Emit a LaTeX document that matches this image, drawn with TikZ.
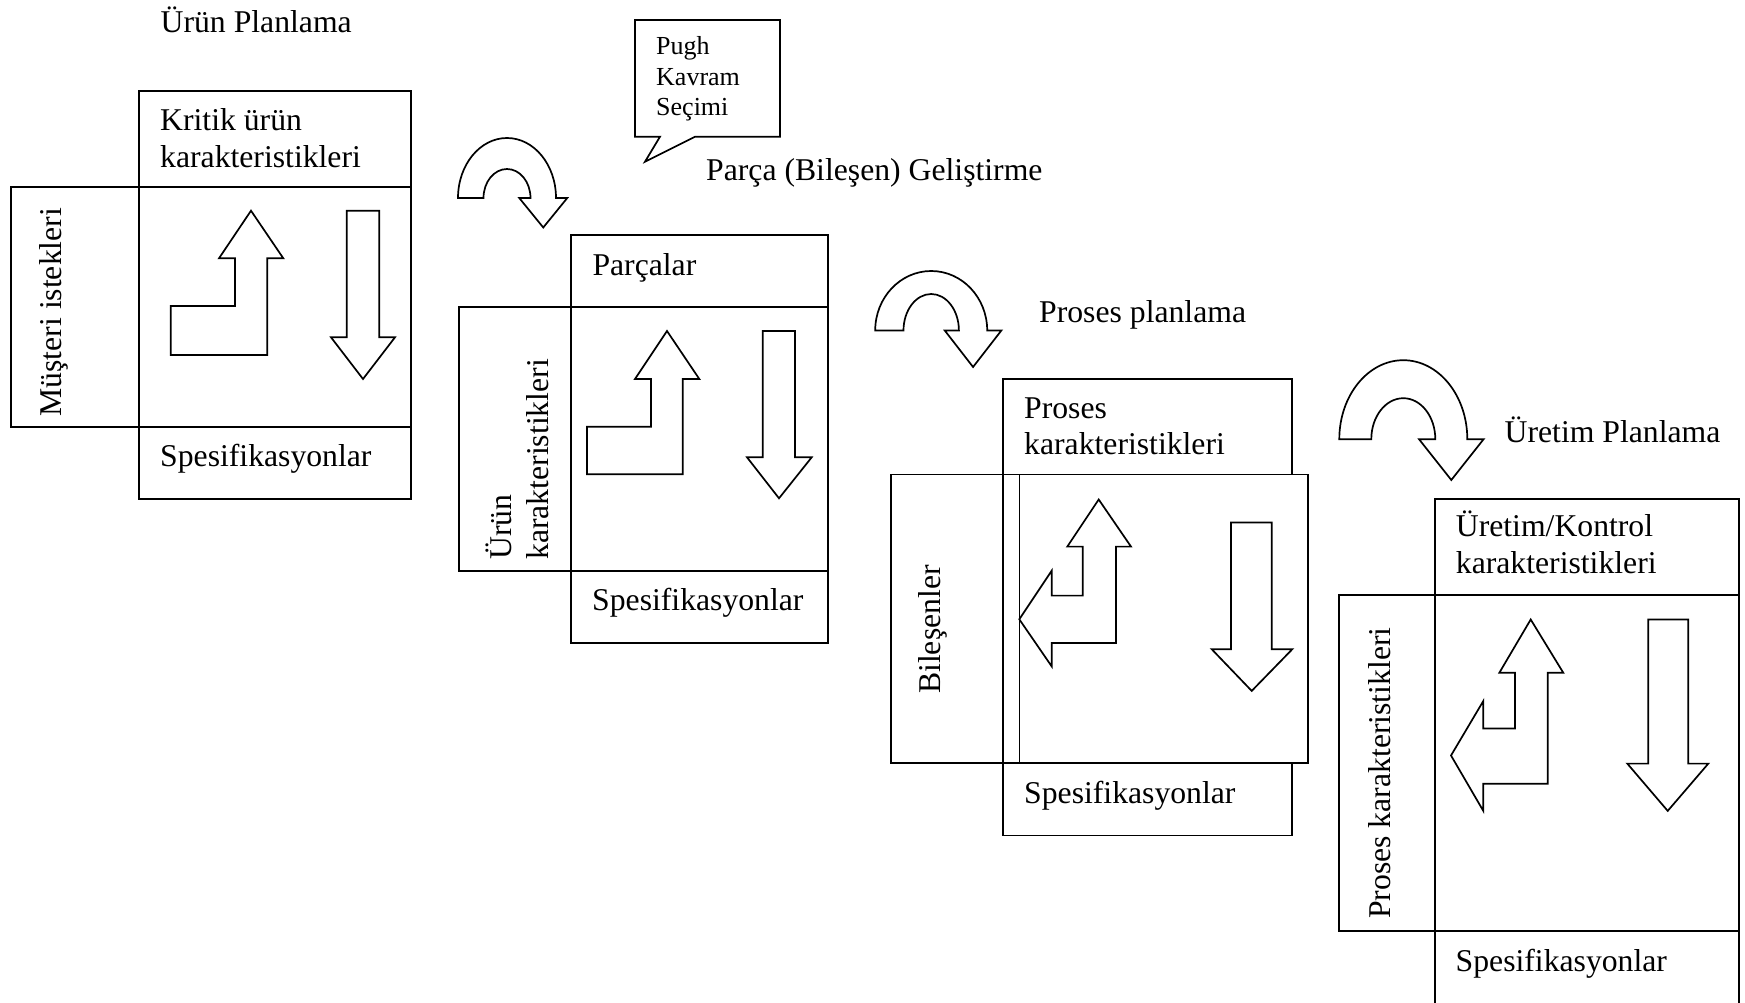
\documentclass[tikz,border=0pt]{standalone}
\usepackage{fontspec}
\setmainfont{Liberation Serif}

% U-turn arrow: centre x, base y, outer radii, inner radii, head half width, head depth
\newcommand{\qfdturn}[8]{%
  \draw[shapeline]
    ({#1-#3},#2)
    .. controls ({#1-#3},{#2-0.5523*#4}) and ({#1-0.5523*#3},{#2-#4}) .. ({#1},{#2-#4})
    .. controls ({#1+0.5523*#3},{#2-#4}) and ({#1+#3},{#2-0.5523*#4}) .. ({#1+#3},#2)
    -- ({#1+(#3+#5)/2+#7},#2)
    -- ({#1+(#3+#5)/2},{#2+#8})
    -- ({#1+(#3+#5)/2-#7},#2)
    -- ({#1+#5},#2)
    .. controls ({#1+#5},{#2-0.5523*#6}) and ({#1+0.5523*#5},{#2-#6}) .. ({#1},{#2-#6})
    .. controls ({#1-0.5523*#5},{#2-#6}) and ({#1-#5},{#2-0.5523*#6}) .. ({#1-#5},#2)
    -- cycle;}

\begin{document}
\begin{tikzpicture}[x=1pt,y=-1pt,
  lbl/.style={anchor=base west, inner sep=0pt, font=\fontsize{31.7}{36.5}\selectfont},
  vlbl/.style={lbl, rotate=90},
  smalllbl/.style={anchor=base west, inner sep=0pt, font=\fontsize{26}{30.5}\selectfont},
  frame/.style={draw=black, line width=1.7pt},
  shapeline/.style={draw=black, fill=white, line width=1.7pt, line join=miter}]

\fill[white] (0,0) rectangle (1745,1003);
\useasboundingbox (0,0) rectangle (1745,1003);
\clip (0,0) rectangle (1745,1003);

% ---------- stage 1: product planning ----------
\draw[frame] (139,90.7) rectangle (411,186.7);
\draw[frame] (139,186.7) rectangle (411,426.7);
\draw[frame] (139,426.7) rectangle (411,499);
\draw[frame] (10.7,186.7) rectangle (139,426.7);

\draw[shapeline] (251,210.7) -- (283.3,258.3) -- (267.3,258.3) -- (267.3,355)
  -- (170.7,355) -- (170.7,306) -- (235,306) -- (235,258.3) -- (219,258.3) -- cycle;
\draw[shapeline] (346.7,210.7) -- (379.3,210.7) -- (379.3,337.3) -- (395,337.3)
  -- (363,379) -- (331,337.3) -- (346.7,337.3) -- cycle;

\node[lbl] (t1) at (160.5,33) {Ürün Planlama};
\node[lbl] (k1) at (160,131) {\parbox[t]{300pt}{Kritik ürün\\karakteristikleri}};
\node[vlbl] (m1) at (61,416.7) {Müşteri istekleri};
\node[lbl] (s1) at (160,466.7) {Spesifikasyonlar};

% ---------- transition 1 ----------
\qfdturn{507}{198}{49}{60}{23.5}{29}{24}{29.5}

% speech bubble
\draw[shapeline] (635,20) -- (780,20) -- (780,136.7) -- (695,136.7) -- (645,161.7)
  -- (660,136.7) -- (635,136.7) -- cycle;
\node[smalllbl] (pugh) at (656,55) {\parbox[t]{120pt}{Pugh\\Kavram\\Seçimi}};
\node[lbl] (t2) at (706,181) {Parça (Bileşen) Geliştirme};

% ---------- stage 2: part development ----------
\draw[frame] (571,235) rectangle (827.7,307.3);
\draw[frame] (571,307.3) rectangle (827.7,570.7);
\draw[frame] (571,570.7) rectangle (827.7,643.3);
\draw[frame] (459,307.3) rectangle (571,570.7);

\draw[shapeline] (667,331) -- (699.3,379) -- (682.7,379) -- (682.7,474.3)
  -- (587,474.3) -- (587,426.7) -- (651,426.7) -- (651,379) -- (635,379) -- cycle;
\draw[shapeline] (762.7,331) -- (795,331) -- (795,457.3) -- (811.7,457.3)
  -- (779,498.3) -- (747,457.3) -- (762.7,457.3) -- cycle;

\node[lbl] (k2) at (592.3,275) {Parçalar};
\node[vlbl] (m2) at (511.7,560) {\parbox[t]{300pt}{Ürün\\karakteristikleri}};
\node[lbl] (s2) at (592,610) {Spesifikasyonlar};

% ---------- transition 2 ----------
\qfdturn{931.2}{330.5}{56}{59.5}{27.7}{36.5}{28.3}{36.5}
\node[lbl] (t3) at (1039,322.7) {Proses planlama};

% ---------- stage 3: process planning ----------
\draw[frame] (1003,379) rectangle (1291.7,474.5);
\draw[frame] (891,474.5) rectangle (1307.7,762.8);
\draw[frame] (1003,474.5) -- (1003,762.8);
\draw[frame] (1019.5,474.5) -- (1019.5,762.8);
\draw[frame] (1003,762.8) rectangle (1291.7,835.5);

\draw[shapeline] (1098.7,499.5) -- (1131,546.6) -- (1116,546.6) -- (1116,643)
  -- (1051.7,643) -- (1051.7,666.4) -- (1019.3,619.3) -- (1051.7,570.7)
  -- (1051.7,595.6) -- (1082.7,595.6) -- (1082.7,546.6) -- (1067.3,546.6) -- cycle;
\draw[shapeline] (1231,522.5) -- (1271.7,522.5) -- (1271.7,649.2) -- (1292.3,649.2)
  -- (1251.7,690.9) -- (1211.7,649.2) -- (1231,649.2) -- cycle;

\node[lbl] (k3) at (1024,418.4) {\parbox[t]{300pt}{Proses\\karakteristikleri}};
\node[vlbl] (m3) at (940,694) {Bileşenler};
\node[lbl] (s3) at (1024,803) {Spesifikasyonlar};

% ---------- transition 3 ----------
\qfdturn{1403.3}{439.2}{64}{79}{32}{41}{32.3}{40.8}
\node[lbl] (t4) at (1504.5,442) {Üretim Planlama};

% ---------- stage 4: production planning ----------
\draw[frame] (1435.3,499.2) rectangle (1739,595);
\draw[frame] (1435.3,595) rectangle (1739,931);
\draw[frame] (1339,595) rectangle (1435.3,931);
\draw[frame] (1435.3,931) rectangle (1739,1012);

\draw[shapeline] (1530.7,619.5) -- (1563.3,672.8) -- (1547.7,672.8) -- (1547.7,783.8)
  -- (1483.3,783.8) -- (1483.3,810.9) -- (1451,755.5) -- (1483.3,701)
  -- (1483.3,728.5) -- (1515,728.5) -- (1515,672.8) -- (1499.3,672.8) -- cycle;
\draw[shapeline] (1648.3,619.5) -- (1688.3,619.5) -- (1688.3,763.6) -- (1708.3,763.6)
  -- (1667.7,810.9) -- (1627.3,763.6) -- (1648.3,763.6) -- cycle;

\node[lbl] (k4) at (1455.7,536.7) {\parbox[t]{300pt}{Üretim/Kontrol\\karakteristikleri}};
\node[vlbl] (m4) at (1390.7,919) {Proses karakteristikleri};
\node[lbl] (s4) at (1455.5,971) {Spesifikasyonlar};
\end{tikzpicture}
\end{document}
